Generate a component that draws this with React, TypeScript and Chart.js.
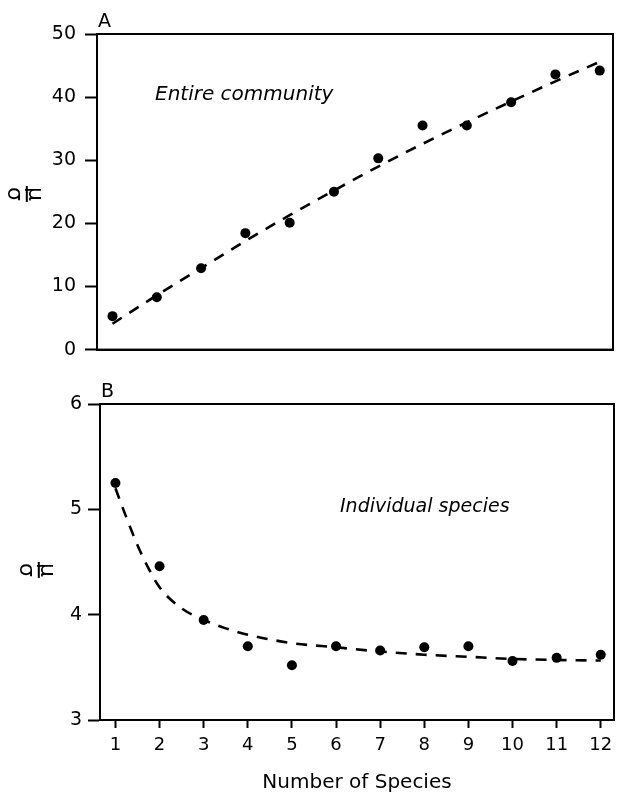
import React, { useEffect, useRef } from "react";
import { Chart, registerables } from "chart.js";

Chart.register(...registerables);

// ---------- data ----------
const speciesCounts = [1, 2, 3, 4, 5, 6, 7, 8, 9, 10, 11, 12];
const xTickValues = [1, 2, 3, 4, 5, 6, 7, 8, 9, 10, 11, 12];

// Panel A: entire community
const communityValues = [5.3, 8.3, 12.9, 18.45, 20.1, 25.0, 30.3, 35.5, 35.5, 39.2, 43.6, 44.2];
const communityFit = [4.1, 8.6, 12.9, 17.2, 21.3, 25.2, 29.0, 32.6, 36.0, 39.3, 42.5, 45.6];
const communityTicks = [0, 10, 20, 30, 40, 50];

// Panel B: individual species
const individualValues = [5.25, 4.46, 3.95, 3.7, 3.52, 3.7, 3.66, 3.69, 3.7, 3.56, 3.59, 3.62];
const individualFitX = [1, 1.25, 1.5, 1.75, 2, 2.5, 3, 3.5, 4, 5, 6, 7, 8, 9, 10, 11, 12];
const individualFitY = [5.2, 4.92, 4.66, 4.44, 4.26, 4.06, 3.95, 3.87, 3.81, 3.73, 3.69, 3.65, 3.62, 3.6, 3.58, 3.57, 3.565];
const individualTicks = [3, 4, 5, 6];

const FONT = '"DejaVu Sans", sans-serif';

Chart.defaults.font.family = FONT;
Chart.defaults.color = "#000";

function panelPlugin(
  letter: string,
  note: string,
  noteX: number,
  noteY: number,
  noteSize: number,
  labelX: number,
  labelY: number
) {
  return {
    id: "panel" + letter,
    afterDraw(chart: any) {
      const { ctx, chartArea: a } = chart;
      ctx.save();
      ctx.strokeStyle = "#000";
      ctx.lineWidth = 2;
      ctx.strokeRect(a.left, a.top, a.right - a.left, a.bottom - a.top);
      ctx.fillStyle = "#000";
      ctx.font = `19px ${FONT}`;
      ctx.textAlign = "left";
      ctx.textBaseline = "alphabetic";
      ctx.fillText(letter, a.left + 1, a.top - 7);
      ctx.font = `italic ${noteSize}px ${FONT}`;
      ctx.textBaseline = "middle";
      ctx.fillText(note, noteX, noteY);
      // y-axis label  mu / sigma, rotated
      ctx.translate(labelX, labelY);
      ctx.rotate(Math.PI / 2);
      ctx.textAlign = "center";
      ctx.font = `22px ${FONT}`;
      ctx.textBaseline = "alphabetic";
      ctx.fillText("μ", 0, -3);
      ctx.fillRect(-8, -1.8, 16, 2);
      ctx.textBaseline = "top";
      ctx.fillText("σ", 0, 1);
      ctx.restore();
    },
  };
}

function xScale(showLabels: boolean, height: number) {
  return {
    type: "linear",
    min: 0.65,
    max: 12.3,
    afterBuildTicks: (s: any) => {
      s.ticks = xTickValues.map((v) => ({ value: v }));
    },
    afterFit: (s: any) => {
      s.height = height;
    },
    grid: {
      display: showLabels,
      drawOnChartArea: false,
      drawTicks: showLabels,
      tickLength: 8,
      tickWidth: 2,
      tickColor: "#000",
      color: "#000",
    },
    border: { display: true, color: "#000", width: 2 },
    ticks: { display: showLabels, color: "#000", padding: 7, font: { family: FONT, size: 18 } },
    title: showLabels
      ? {
          display: true,
          text: "Number of Species",
          color: "#000",
          font: { family: FONT, size: 20 },
          padding: { top: 0, bottom: 1 },
        }
      : { display: false },
  };
}

function yScale(min: number, max: number, ticks: number[], width: number, pad: number) {
  return {
    type: "linear",
    min,
    max,
    afterBuildTicks: (s: any) => {
      s.ticks = ticks.map((v) => ({ value: v }));
    },
    afterFit: (s: any) => {
      s.width = width;
    },
    grid: {
      drawOnChartArea: false,
      drawTicks: true,
      tickLength: 12,
      tickWidth: 2,
      tickColor: "#000",
      color: "#000",
    },
    border: { display: true, color: "#000", width: 2 },
    ticks: { color: "#000", padding: pad, font: { family: FONT, size: 19 } },
  };
}

function dashedLine(xs: number[], ys: number[]) {
  return {
    type: "line",
    data: xs.map((x, i) => ({ x, y: ys[i] })),
    borderColor: "#000",
    borderWidth: 2.6,
    borderDash: [11, 9],
    pointRadius: 0,
    fill: false,
    cubicInterpolationMode: "monotone",
    order: 2,
  };
}

function dots(xs: number[], ys: number[]) {
  return {
    type: "scatter",
    data: xs.map((x, i) => ({ x, y: ys[i] })),
    backgroundColor: "#000",
    borderColor: "#000",
    pointRadius: 5,
    pointBorderWidth: 0,
    order: 1,
  };
}

export default function App() {
  const refA = useRef<HTMLCanvasElement>(null);
  const refB = useRef<HTMLCanvasElement>(null);

  useEffect(() => {
    const chartA = new Chart(refA.current as HTMLCanvasElement, {
      type: "scatter",
      data: {
        datasets: [
          dashedLine(speciesCounts, communityFit) as any,
          dots(speciesCounts, communityValues) as any,
        ],
      },
      options: {
        animation: false,
        responsive: false,
        maintainAspectRatio: false,
        layout: { padding: { top: 34, right: 7, bottom: 0, left: 0 } },
        plugins: { legend: { display: false }, tooltip: { enabled: false } },
        scales: {
          x: xScale(false, 19) as any,
          y: yScale(0, 50, communityTicks, 97, 9) as any,
        },
      },
      plugins: [panelPlugin("A", "Entire community", 155, 95, 20, 26, 194)],
    });

    const chartB = new Chart(refB.current as HTMLCanvasElement, {
      type: "scatter",
      data: {
        datasets: [
          dashedLine(individualFitX, individualFitY) as any,
          dots(speciesCounts, individualValues) as any,
        ],
      },
      options: {
        animation: false,
        responsive: false,
        maintainAspectRatio: false,
        layout: { padding: { top: 34, right: 6, bottom: 0, left: 0 } },
        plugins: { legend: { display: false }, tooltip: { enabled: false } },
        scales: {
          x: xScale(true, 76) as any,
          y: yScale(3, 6, individualTicks, 100, 6) as any,
        },
      },
      plugins: [panelPlugin("B", "Individual species", 340, 137, 19, 38, 200)],
    });

    return () => {
      chartA.destroy();
      chartB.destroy();
    };
  }, []);

  return (
    <div style={{ position: "absolute", left: 0, top: 0, width: 620, height: 796, background: "#fff" }}>
      <canvas
        ref={refA}
        width={620}
        height={370}
        style={{ position: "absolute", left: 0, top: 0, width: 620, height: 370 }}
      />
      <canvas
        ref={refB}
        width={620}
        height={426}
        style={{ position: "absolute", left: 0, top: 370, width: 620, height: 426 }}
      />
    </div>
  );
}
